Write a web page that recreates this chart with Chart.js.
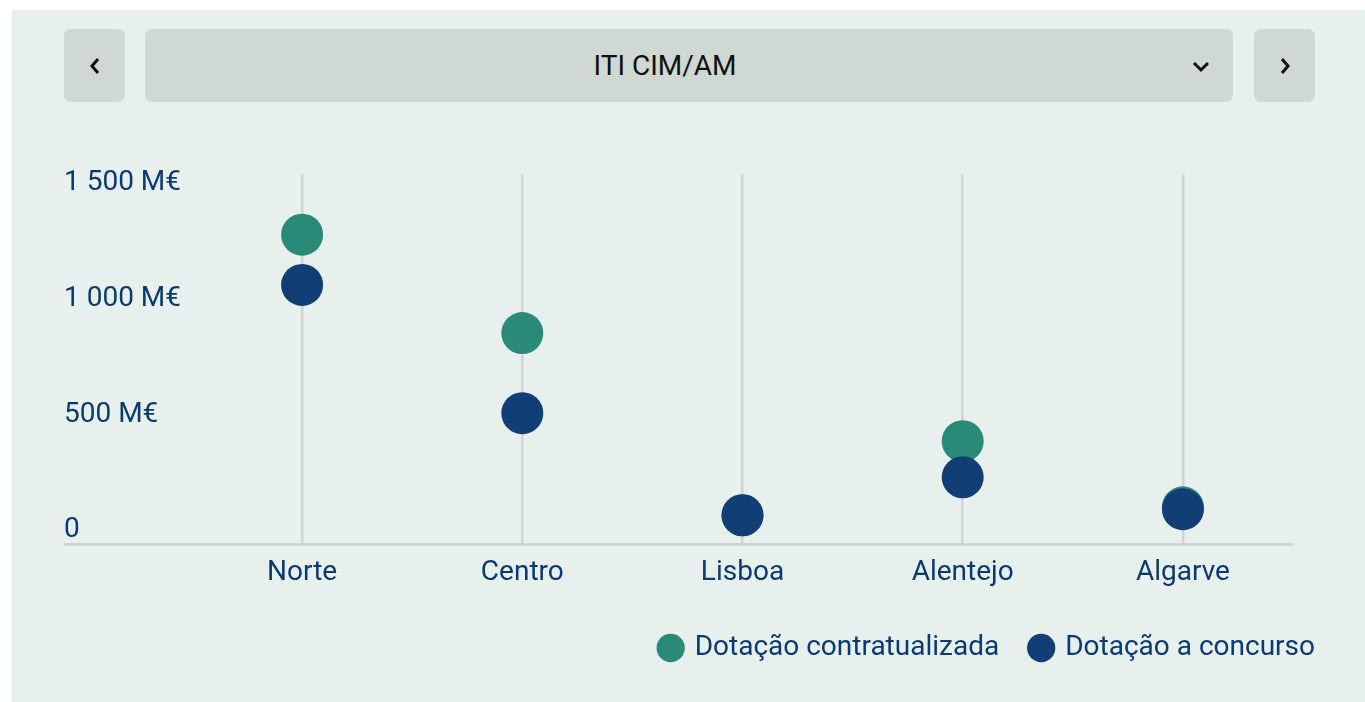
<!DOCTYPE html>
<html lang="pt">
<head>
<meta charset="utf-8">
<title>ITI CIM/AM</title>
<script src="https://cdn.jsdelivr.net/npm/chart.js@4.4.1/dist/chart.umd.min.js"></script>
<style>
  html, body { margin: 0; padding: 0; background: #fff; }
  body { width: 1365px; height: 702px; overflow: hidden; position: relative; font-family: Roboto, sans-serif; }
  .panel { position: absolute; left: 12px; top: 10px; right: 0; bottom: 0; background: #e7f0ed; }
  .btn { position: absolute; top: 19px; height: 73px; background: #cfd8d3; border-radius: 7px; }
  .btn svg { position: absolute; left: 50%; top: 50%; transform: translate(-50%, -50%); }
  .select .label { position: absolute; left: 0; right: 48px; top: 0; line-height: 73px; text-align: center; font-size: 28px; color: #111; }
  .select svg { left: auto; right: 22px; transform: translate(0, -50%); }
  .chart-box { position: absolute; left: 52px; top: 143px; width: 1283px; height: 519px; }
</style>
</head>
<body>
<div class="panel">
  <div class="btn" style="left:52px;width:61px">
    <svg width="14" height="18" viewBox="0 0 14 18"><path d="M10 2 L4 9 L10 16" fill="none" stroke="#111" stroke-width="3"/></svg>
  </div>
  <div class="btn select" style="left:133px;width:1088px">
    <div class="label">ITI CIM/AM</div>
    <svg width="20" height="14" viewBox="0 0 20 14"><path d="M3 4 L10 11 L17 4" fill="none" stroke="#111" stroke-width="3"/></svg>
  </div>
  <div class="btn" style="left:1242px;width:61px">
    <svg width="14" height="18" viewBox="0 0 14 18"><path d="M4 2 L10 9 L4 16" fill="none" stroke="#111" stroke-width="3"/></svg>
  </div>
  <div class="chart-box"><canvas id="myChart"></canvas></div>
</div>
<script>
let chartEl = document.getElementById('myChart')

// dados (M€)
let regioes = ['Norte', 'Centro', 'Lisboa', 'Alentejo', 'Algarve']
let contratualizada = [1338, 913, 126, 446, 160]
let concurso = [1121, 567, 126, 290, 152]
let yTicks = [0, 500, 1000, 1500]

let azul = '#0b3a73'
let verde = '#2a8a78'
let azulPonto = '#113f75'
let cinza = '#cdd6d2'

function formatM(v) {
    if (v === 0) return '0'
    return String(v).replace(/\B(?=(\d{3})+(?!\d))/g, ' ') + ' M€'
}

// linha de base desde a margem esquerda
let baseLine = {
    id: 'baseLine',
    beforeDatasetsDraw(chart) {
        let ctx = chart.ctx
        let y = chart.scales.y.getPixelForValue(0)
        ctx.save()
        ctx.strokeStyle = cinza
        ctx.lineWidth = 3
        ctx.beginPath()
        ctx.moveTo(0, y)
        ctx.lineTo(chart.chartArea.right, y)
        ctx.stroke()
        ctx.restore()
    }
}

let shapeChart = new Chart(chartEl, {
    type: 'line',
    data: {
        labels: regioes,
        datasets: [{
                label: 'Dotação contratualizada',
                data: contratualizada,
                showLine: false,
                order: 1,
                backgroundColor: verde,
                pointBackgroundColor: verde,
                pointBorderWidth: 0,
                pointRadius: 21,
                pointHoverRadius: 21
            },
            {
                label: 'Dotação a concurso',
                data: concurso,
                showLine: false,
                order: 0,
                backgroundColor: azulPonto,
                pointBackgroundColor: azulPonto,
                pointBorderWidth: 0,
                pointRadius: 21,
                pointHoverRadius: 21
            }
        ]
    },
    options: {
        responsive: true,
        maintainAspectRatio: false,
        animation: false,
        layout: { padding: { top: 0 } },
        plugins: {
            tooltip: { enabled: false },
            legend: {
                position: 'bottom',
                align: 'end',
                reverse: true,
                labels: {
                    usePointStyle: true,
                    pointStyle: 'circle',
                    boxWidth: 20,
                    boxHeight: 20,
                    padding: 32,
                    color: azul,
                    font: { family: 'Roboto', size: 28 }
                }
            }
        },
        scales: {
            x: {
                offset: true,
                border: { display: false },
                grid: { color: cinza, lineWidth: 2.5, drawTicks: false },
                ticks: { color: azul, padding: 12, font: { family: 'Roboto', size: 28 } }
            },
            y: {
                min: 0,
                max: 1600,
                border: { display: false },
                grid: { display: false },
                afterFit: function(scale) { scale.width = 128 },
                afterBuildTicks: function(scale) {
                    scale.ticks = yTicks.map(function(v) { return { value: v } })
                },
                ticks: {
                    color: azul,
                    crossAlign: 'far',
                    padding: 0,
                    labelOffset: -14,
                    font: { family: 'Roboto', size: 28 },
                    callback: function(v) { return formatM(v) }
                }
            },
            yRight: {
                position: 'right',
                border: { display: false },
                grid: { display: false },
                ticks: { display: false },
                afterFit: function(scale) { scale.width = 54 }
            }
        }
    },
    plugins: [baseLine]
})
</script>
</body>
</html>
